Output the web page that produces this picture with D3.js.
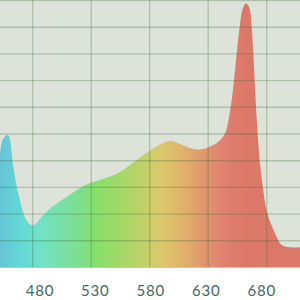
<!DOCTYPE html>
<html>
<head>
<meta charset="utf-8">
<script src="https://cdn.jsdelivr.net/npm/d3@7"></script>
<style>
  html, body { margin: 0; padding: 0; background: #fff; }
  svg { display: block; }
</style>
</head>
<body>
<svg id="chart"></svg>
<script>
// spectrum data (nm, relative intensity)
let wavelengths = [444.0, 446.7, 451.2, 456.0, 459.1, 462.0, 465.0, 469.5, 474.0, 483.1,
    492.1, 504.2, 516.2, 525.2, 534.2, 543.2, 552.2, 561.3, 570.3, 579.3,
    588.3, 597.3, 606.4, 615.4, 624.4, 633.4, 640.6, 647.0, 652.1, 655.1,
    657.5, 660.2, 662.6, 665.9, 669.0, 671.0, 672.5, 673.7, 674.9, 676.4,
    678.2, 681.0, 685.1, 692.1, 698.1, 705.6, 714.6];
let intensity = [41.9, 47.9, 49.4, 37.6, 30.1, 25.1, 20.2, 16.6, 15.7, 19.5,
    22.8, 26.3, 29.6, 31.5, 32.6, 33.9, 35.6, 38.2, 41.0, 43.6,
    45.9, 47.2, 46.1, 44.6, 44.0, 45.1, 46.8, 50.1, 60.0, 70.0,
    80.0, 90.0, 96.3, 98.8, 97.0, 90.0, 80.0, 70.0, 60.0, 50.1,
    40.1, 30.1, 20.1, 12.6, 8.2, 7.4, 7.4];
let tickLabels = [480, 530, 580, 630, 680];
let gridWavelengths = [473.5, 526.3, 579.0, 631.8, 684.6];

let svgWidth = 300, svgHeight = 300, plotHeight = 267;

let svg = d3.select('#chart')
    .attr('width', svgWidth)
    .attr('height', svgHeight);

let x = d3.scaleLinear().domain([444, 714.6]).range([0, svgWidth]);
let y = d3.scaleLinear().domain([0, 100]).range([plotHeight, 0]);

let data = wavelengths.map((w, i) => ({ w: w, v: intensity[i] }));

// colour gradient along x
let stops = [
    [0, '#66c4d6'], [0.07, '#62d9d6'], [0.13, '#70e2c6'], [0.2, '#78e0aa'],
    [0.27, '#7edf8c'], [0.32, '#86e06a'], [0.4, '#a2d868'], [0.48, '#c2d06a'],
    [0.54, '#dcc86c'], [0.6, '#e0b66a'], [0.67, '#e09a6c'], [0.75, '#e08070'],
    [0.82, '#dc7868'], [1, '#dc786a']
];
let grad = svg.append('defs').append('linearGradient')
    .attr('id', 'spec')
    .attr('gradientUnits', 'userSpaceOnUse')
    .attr('x1', 0).attr('x2', svgWidth).attr('y1', 0).attr('y2', 0);
grad.selectAll('stop').data(stops).enter().append('stop')
    .attr('offset', d => d[0])
    .attr('stop-color', d => d[1]);

// plot background
svg.append('rect')
    .attr('x', 0).attr('y', 0)
    .attr('width', svgWidth).attr('height', plotHeight)
    .attr('fill', '#dde3d9');

let area = d3.area()
    .x(d => x(d.w))
    .y0(y(0))
    .y1(d => y(d.v))
    .curve(d3.curveCatmullRom.alpha(0.5));

svg.append('path')
    .datum(data)
    .attr('d', area)
    .attr('fill', 'url(#spec)');

// grid on top
svg.selectAll('.hgrid')
    .data(d3.range(10, 101, 10))
    .enter().append('line')
    .attr('class', 'hgrid')
    .attr('x1', 0).attr('x2', svgWidth)
    .attr('y1', d => y(d) + 0.5).attr('y2', d => y(d) + 0.5)
    .attr('stroke', 'rgba(60,100,50,0.28)')
    .attr('stroke-width', 1.4);

svg.selectAll('.vgrid')
    .data(gridWavelengths)
    .enter().append('line')
    .attr('class', 'vgrid')
    .attr('x1', d => x(d)).attr('x2', d => x(d))
    .attr('y1', 0).attr('y2', plotHeight)
    .attr('stroke', 'rgba(60,100,50,0.28)')
    .attr('stroke-width', 1.3);

// baseline
svg.append('line')
    .attr('x1', 0).attr('x2', svgWidth)
    .attr('y1', plotHeight + 0.5).attr('y2', plotHeight + 0.5)
    .attr('stroke', '#b4ccc8')
    .attr('stroke-width', 1);

svg.selectAll('.lbl')
    .data(tickLabels)
    .enter().append('text')
    .attr('class', 'lbl')
    .attr('x', d => x(d))
    .attr('y', 296)
    .attr('text-anchor', 'middle')
    .attr('font-family', 'Lato, sans-serif')
    .attr('font-size', 15)
    .attr('letter-spacing', 0.8)
    .attr('fill', '#466865')
    .text(d => d);
</script>
</body>
</html>
